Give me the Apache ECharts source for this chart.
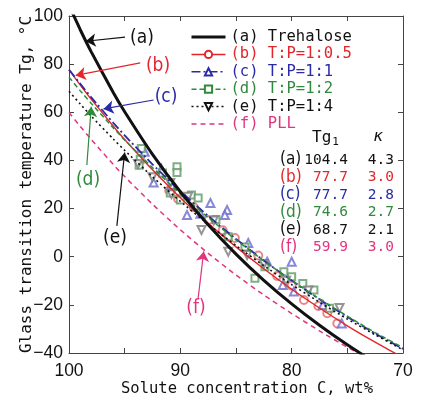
<!DOCTYPE html>
<html><head><meta charset="utf-8">
<script src="https://cdn.jsdelivr.net/npm/echarts@6/dist/echarts.min.js"></script>
<style>html,body{margin:0;padding:0;background:#fff}#c{width:421px;height:403px}</style>
</head><body><div id="c"></div>
<script>
// ---- data ----
const concentration = [100, 99, 98, 96, 95, 92.5, 90, 87.5, 85, 82.5, 80, 77.5, 75, 72.5, 70];
const tgA = [104.4, 94.4, 85.1, 68.0, 60.2, 42.5, 27.0, 13.3, 1.1, -9.8, -19.6, -28.5, -36.6, -44.0, -50.8];
const tgB = [77.7, 71.4, 65.4, 54.1, 48.7, 36.1, 24.5, 13.9, 4.1, -5.0, -13.5, -21.3, -28.7, -35.5, -41.9];
const tgC = [77.7, 71.9, 66.2, 55.5, 50.4, 38.4, 27.2, 16.9, 7.4, -1.6, -9.9, -17.7, -25.0, -31.9, -38.3];
const tgD = [74.6, 69.0, 63.7, 53.4, 48.5, 37.0, 26.2, 16.3, 7.0, -1.7, -9.9, -17.5, -24.7, -31.5, -37.8];
const tgE = [68.7, 63.5, 58.4, 48.8, 44.2, 33.2, 23.0, 13.5, 4.6, -3.7, -11.6, -18.9, -25.9, -32.4, -38.7];
const tgF = [59.9, 54.2, 48.7, 38.2, 33.3, 21.8, 11.2, 1.4, -7.6, -15.9, -23.6, -30.8, -37.6, -43.8, -49.7];

const pointsB = [[91.0,27.5],[90.2,24.0],[88.8,20.5],[87.5,15.2],[86.2,11.0],[85.1,7.8],[83.0,0.5],[81.3,-8.0],[80.0,-12.0],[78.9,-18.0],[77.6,-20.5],[76.8,-23.5],[75.9,-27.7]];
const pointsC = [[93.2,43.6],[91.7,36.5],[92.4,30.8],[90.8,29.8],[89.4,17.3],[88.2,17.8],[87.3,22.3],[85.8,19.4],[86.0,17.3],[83.9,5.7],[82.2,-2.1],[80.0,-2.1],[80.8,-11.8],[79.8,-14.5],[77.2,-20.1],[75.5,-27.7]];
const pointsD = [[93.5,45.0],[93.6,40.5],[93.7,38.0],[91.6,34.8],[90.3,37.4],[90.3,35.0],[90.9,26.5],[89.0,25.6],[88.4,24.4],[90.0,23.6],[86.8,15.5],[85.7,8.3],[84.2,4.0],[83.3,-8.9],[82.4,-4.2],[80.7,-6.2],[80.0,-8.3],[79.0,-11.1],[78.0,-13.8],[76.6,-21.4]];
const pointsE = [[93.8,38.5],[92.5,33.0],[90.9,30.6],[90.8,26.0],[89.3,24.9],[88.1,11.1],[87.0,15.0],[85.7,2.1],[84.0,0.7],[82.5,-3.0],[80.5,-10.0],[78.5,-14.0],[75.7,-21.3]];

const seriesNames = ['(a) Trehalose', '(b) T:P=1:0.5', '(c) T:P=1:1', '(d) T:P=1:2', '(e) T:P=1:4', '(f) PLL'];
const curveLetters = ['(a)', '(b)', '(c)', '(d)', '(e)', '(f)'];
const tg1Values = ['104.4', '77.7', '77.7', '74.6', '68.7', '59.9'];
const kappaValues = ['4.3', '3.0', '2.8', '2.7', '2.1', '3.0'];
const xTickLabels = [100, 90, 80, 70];
const yTickLabels = [-40, -20, 0, 20, 40, 60, 80, 100];

// ---- styling / annotation layout ----
const colors = ['#111111', '#e2262b', '#2a2aa6', '#2f8a3c', '#111111', '#e0357f'];
const pointColors = ['#000', '#e06a6a', '#6a6ad0', '#5f9a66', '#7a7a7a'];
const lineTypes = ['solid', 'solid', [9, 3, 2, 3], [5, 3], [2, 3], [5, 4]];
const lineWidths = [3, 1.4, 1.8, 1.5, 1.6, 1.5];
const legendSymbols = ['none', 'emptyCircle', 'emptyTriangle', 'emptyRect', 'emptyTriangle', 'none'];
const legendRot = [0, 0, 0, 0, 180, 0];
// arrow annotations in data coordinates: [from, to]
const arrows = [
  [[94.97, 91.2], [98.5, 89.5]],
  [[93.6, 80.5], [99.4, 75.3]],
  [[92.4, 65.1], [96.9, 61.4]],
  [[98.4, 38.1], [98.0, 62.3]],
  [[95.7, 12.8], [95.0, 43.3]],
  [[88.4, -17.2], [87.9, 2.2]]
];
const labelPos = [[142, 38], [158, 66], [166, 97], [88, 180], [115, 238], [196, 308]];

const MONO = '"DejaVu Sans Mono", "Liberation Mono", monospace';
const NUM = '"Liberation Sans Narrow", "DejaVu Sans Condensed", "Liberation Sans", sans-serif';
const TICK = '"Liberation Sans", Arial, sans-serif';

const curves = [tgA, tgB, tgC, tgD, tgE, tgF];
const pointSets = [null, pointsB, pointsC, pointsD, pointsE, null];
const pointSymbols = [null, 'emptyCircle', 'emptyTriangle', 'emptyRect', 'emptyTriangle', null];

const series = [];
pointSets.forEach((pts, i) => {
  if (!pts) return;
  series.push({
    type: 'scatter', name: 'pts' + i, data: pts,
    symbol: pointSymbols[i], symbolSize: i === 3 ? 7 : 8, symbolRotate: legendRot[i],
    itemStyle: { color: pointColors[i], borderColor: pointColors[i], borderWidth: 1 },
    silent: true, z: 2
  });
});
curves.forEach((arr, i) => {
  series.push({
    type: 'line', name: seriesNames[i],
    data: concentration.map((c, k) => [c, arr[k]]),
    smooth: 0.2, showSymbol: false, symbol: legendSymbols[i], symbolRotate: legendRot[i],
    lineStyle: { color: colors[i], width: lineWidths[i], type: lineTypes[i] },
    itemStyle: { color: colors[i] },
    clip: true, z: i === 0 ? 4 : 3,
    markLine: {
      silent: true, symbol: ['none', 'arrow'], symbolSize: 10,
      label: { show: false },
      lineStyle: { color: colors[i], width: 1.2, type: 'solid' },
      itemStyle: { color: colors[i] },
      emphasis: { disabled: true },
      z: 6,
      data: [[{ coord: arrows[i][0] }, { coord: arrows[i][1] }]]
    }
  });
});

const graphics = [];
curveLetters.forEach((t, i) => {
  graphics.push({ type: 'text', x: labelPos[i][0], y: labelPos[i][1],
    style: { text: t, fill: colors[i], font: '19px ' + NUM, align: 'center', verticalAlign: 'middle' } });
});
graphics.push({ type: 'text', x: 312, y: 138,
  style: { text: '{m|Tg}{s|1}', verticalAlign: 'middle', fill: '#111',
    rich: { m: { fontSize: 16, fontFamily: MONO, fill: '#111' }, s: { fontSize: 11, fontFamily: MONO, padding: [9, 0, 0, 1], fill: '#111' } } } });
graphics.push({ type: 'text', x: 378, y: 137,
  style: { text: 'κ', font: 'italic 16px ' + MONO, fill: '#111', align: 'center', verticalAlign: 'middle' } });
const rowY = [160, 177.5, 195, 212.5, 230, 247.5];
curveLetters.forEach((t, i) => {
  const c = colors[i];
  graphics.push({ type: 'text', x: 280, y: rowY[i], style: { text: t, fill: c, font: '17px ' + NUM, align: 'left', verticalAlign: 'middle' } });
  graphics.push({ type: 'text', x: 348, y: rowY[i], style: { text: tg1Values[i], fill: c, font: '14.5px ' + MONO, align: 'right', verticalAlign: 'middle' } });
  graphics.push({ type: 'text', x: 394, y: rowY[i], style: { text: kappaValues[i], fill: c, font: '14.5px ' + MONO, align: 'right', verticalAlign: 'middle' } });
});

const axisLineStyle = { onZero: false, lineStyle: { color: '#444', width: 1 } };
const tickStyle = { inside: true, length: 5, lineStyle: { color: '#444' } };
const labelFmt = v => yTickLabels.includes(v) ? String(v).replace('-', '\u2212') : '';

const option = {
  animation: false,
  backgroundColor: '#fff',
  grid: { left: 69, right: 18, top: 16, bottom: 50, containLabel: false, outerBoundsMode: 'none' },
  legend: {
    orient: 'vertical', left: 190, top: 29, padding: 0,
    itemWidth: 34, itemHeight: 9, itemGap: 1.4, selectedMode: false,
    textStyle: { fontFamily: MONO, fontSize: 15.5, lineHeight: 16 },
    data: seriesNames.map((n, i) => ({
      name: n,
      textStyle: { color: colors[i] },
      itemStyle: (i === 0 || i === 5) ? { opacity: 0 } : { borderWidth: 1 },
      lineStyle: { width: i === 0 ? 3 : 1.5 }
    }))
  },
  xAxis: [{
    type: 'value', min: 70, max: 100, interval: 5, inverse: true, position: 'bottom',
    axisLine: axisLineStyle, axisTick: tickStyle, splitLine: { show: false },
    axisLabel: { formatter: v => xTickLabels.includes(v) ? String(v) : '', fontFamily: TICK, fontSize: 17.5, color: '#111', margin: 9 },
    name: 'Solute concentration C, wt%', nameLocation: 'middle', nameGap: 28, nameMoveOverlap: false,
    nameTextStyle: { fontFamily: MONO, fontSize: 15.5, color: '#111', padding: [0, 0, 0, 22] }
  }, {
    type: 'value', min: 70, max: 100, interval: 5, inverse: true, position: 'top',
    axisLine: axisLineStyle, axisTick: tickStyle, splitLine: { show: false }, axisLabel: { show: false }
  }],
  yAxis: [{
    type: 'value', min: -40, max: 100, interval: 20, position: 'left',
    axisLine: axisLineStyle, axisTick: tickStyle, splitLine: { show: false },
    axisLabel: { formatter: labelFmt, fontFamily: TICK, fontSize: 17.5, color: '#111', margin: 6 },
    name: 'Glass transition temperature Tg, \u00B0C', nameLocation: 'middle', nameGap: 34, nameMoveOverlap: false,
    nameTextStyle: { fontFamily: MONO, fontSize: 16, color: '#111' }
  }, {
    type: 'value', min: -40, max: 100, interval: 20, position: 'right',
    axisLine: axisLineStyle, axisTick: tickStyle, splitLine: { show: false }, axisLabel: { show: false }
  }],
  series: series,
  graphic: graphics
};
const chart = echarts.init(document.getElementById('c'), null, { renderer: 'canvas' });
chart.setOption(option);
</script></body></html>
